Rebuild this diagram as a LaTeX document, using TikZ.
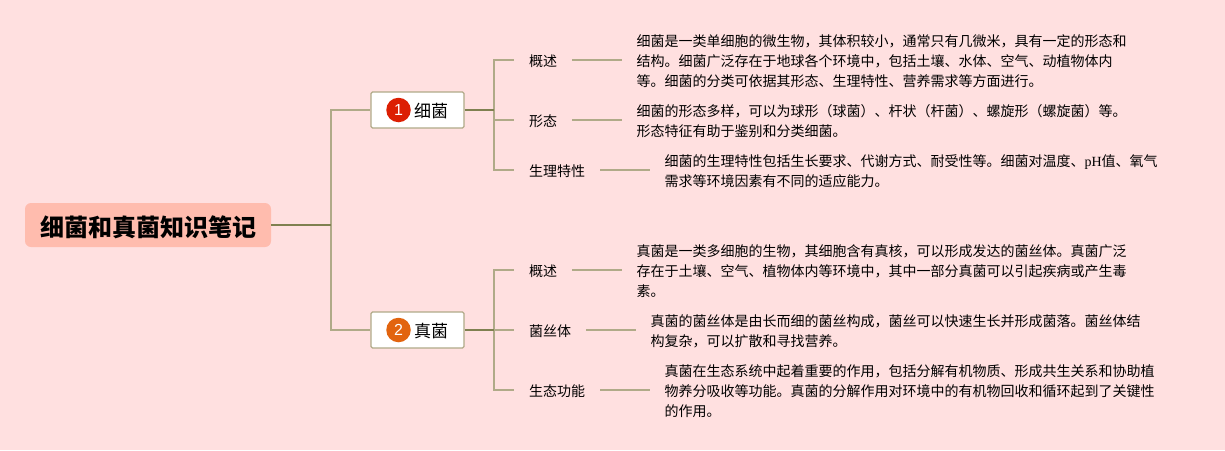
\documentclass[tikz,border=0pt]{standalone}
\usepackage{fontspec}
\setmainfont{Noto Sans CJK SC}
\newfontfamily\latinserif{Liberation Serif}
\newfontfamily\digitfont{Liberation Sans}
\usetikzlibrary{positioning}
\definecolor{Blush}{HTML}{FFE0E0}
\definecolor{Salmon}{HTML}{FFBCAE}
\definecolor{Khaki}{HTML}{B0AA88}
\definecolor{Olive}{HTML}{7F8050}
\definecolor{BadgeRed}{HTML}{DC1F03}
\definecolor{BadgeOrange}{HTML}{E2640F}
\tikzset{
rootbox/.style={fill=Salmon,rounded corners=6pt,minimum width=246pt,minimum height=44pt,inner sep=0pt,text height=23pt,text depth=.4pt,font=\fontsize{24}{28}\selectfont\bfseries},
topicbox/.style={draw=Khaki,fill=white,line width=1.2pt,rounded corners=1.5pt,minimum height=36pt,inner xsep=16pt,inner ysep=0pt,text width=61pt,align=right,text height=15.4pt,text depth=.4pt,font=\fontsize{17}{20}\selectfont},
badge/.style={circle,minimum size=24.5pt,inner sep=0pt,text=white,font=\digitfont\fontsize{16}{18}\selectfont},
subject/.style={inner xsep=15pt,inner ysep=0pt,text height=13pt,text depth=.4pt,font=\fontsize{14}{20}\selectfont},
detail/.style={inner xsep=14pt,inner ysep=0pt,yshift=-1.5pt,align=left,font=\fontsize{14}{20}\selectfont},
link/.style={draw=Khaki,line width=1.5pt},
trunk/.style={draw=Olive,line width=1.5pt}
}
\begin{document}
\begin{tikzpicture}[x=1pt,y=-1pt,node distance=50pt]
\fill[Blush](0,0)rectangle(1225,450);
\useasboundingbox(0,0)rectangle(1225,450);
\node[rootbox](root)at(148,225){细菌和真菌知识笔记};
\coordinate(spine)at(331,225);
\node[topicbox](bact)at(417.5,110){细菌};
\node[topicbox](fungi)at(417.5,330){真菌};
\node[badge,fill=BadgeRed](bactnum)at(398.5,110){1};
\node[badge,fill=BadgeOrange](funginum)at(398.5,330){2};
\coordinate(bacthub)at(494,110);
\coordinate(fungihub)at(494,330);
% bacteria
\node[subject,anchor=west](bactA)at(514,60){概述};
\node[subject,anchor=west](bactB)at(514,120){形态};
\node[subject,anchor=west](bactC)at(514,170){生理特性};
\node[detail,right=of bactA](bactAtext){细菌是一类单细胞的微生物，其体积较小，通常只有几微米，具有一定的形态和\\结构。细菌广泛存在于地球各个环境中，包括土壤、水体、空气、动植物体内\\等。细菌的分类可依据其形态、生理特性、营养需求等方面进行。};
\node[detail,right=of bactB](bactBtext){细菌的形态多样，可以为球形（球菌）、杆状（杆菌）、螺旋形（螺旋菌）等。\\形态特征有助于鉴别和分类细菌。};
\node[detail,right=of bactC](bactCtext){细菌的生理特性包括生长要求、代谢方式、耐受性等。细菌对温度、{\latinserif pH}值、氧气\\需求等环境因素有不同的适应能力。};
% fungi
\node[subject,anchor=west](fungiA)at(514,270){概述};
\node[subject,anchor=west](fungiB)at(514,330){菌丝体};
\node[subject,anchor=west](fungiC)at(514,390){生态功能};
\node[detail,right=of fungiA](fungiAtext){真菌是一类多细胞的生物，其细胞含有真核，可以形成发达的菌丝体。真菌广泛\\存在于土壤、空气、植物体内等环境中，其中一部分真菌可以引起疾病或产生毒\\素。};
\node[detail,right=of fungiB](fungiBtext){真菌的菌丝体是由长而细的菌丝构成，菌丝可以快速生长并形成菌落。菌丝体结\\构复杂，可以扩散和寻找营养。};
\node[detail,right=of fungiC](fungiCtext){真菌在生态系统中起着重要的作用，包括分解有机物质、形成共生关系和协助植\\物养分吸收等功能。真菌的分解作用对环境中的有机物回收和循环起到了关键性\\的作用。};
% connectors
\draw[link](spine)|-(bact.west);
\draw[link](spine)|-(fungi.west);
\draw[trunk](root.east)--(spine);
\foreach \n in {A,B,C}{
\draw[link](bacthub)|-(bact\n.west);
\draw[link](bact\n.east)--(bact\n.east-|bact\n text.west);
\draw[link](fungihub)|-(fungi\n.west);
\draw[link](fungi\n.east)--(fungi\n.east-|fungi\n text.west);}
\draw[trunk](bact.east)--(bacthub);
\draw[trunk](fungi.east)--(fungihub);
\end{tikzpicture}
\end{document}
